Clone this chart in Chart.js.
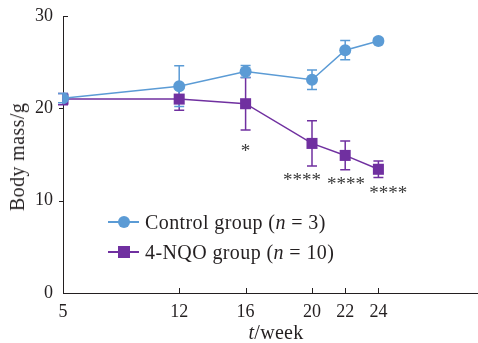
<!DOCTYPE html>
<html><head><meta charset="utf-8">
<script src="https://cdn.jsdelivr.net/npm/chart.js@4/dist/chart.umd.min.js"></script>
<style>
html,body{margin:0;padding:0;background:#fff;}
#wrap{position:relative;width:478px;height:343px;overflow:hidden;}
#c{position:absolute;left:0;top:0;}
.t{position:absolute;font-family:"Liberation Serif","DejaVu Serif",serif;color:#231f20;font-size:18px;white-space:nowrap;line-height:1;}
#xt{left:276px;top:332px;transform:translate(-50%,-50%);font-size:20px;letter-spacing:0.3px;}
#yt{left:17px;top:157px;transform:translate(-50%,-50%) rotate(-90deg);font-size:20px;letter-spacing:0.4px;}
.row{position:absolute;left:108px;height:20px;display:flex;align-items:center;font-size:20px;letter-spacing:0.4px;}
.ln{position:relative;width:31px;height:20px;margin-right:6px;}
.ln .bar{position:absolute;left:0;right:0;top:9px;height:1.5px;}
.ln .mk{position:absolute;left:10px;top:4px;width:12px;height:12px;}
</style></head><body>
<div id="wrap">
<canvas id="c" width="478" height="343"></canvas>
<div class="t" id="xt"><i>t</i>/week</div>
<div class="t" id="yt">Body mass/g</div>
<div class="t row" id="lg0" style="top:212px"></div>
<div class="t row" id="lg1" style="top:242px"></div>
</div>
<script>
// ---- data ----
const weeks = [5, 12, 16, 20, 22, 24];
const controlMean = [21.1, 22.4, 24.0, 23.1, 26.3, 27.3];
const controlErr  = [0.5, 2.2, 0.65, 1.05, 1.05, 0.3];
const nqoMean = [21.0, 21.0, 20.5, 16.2, 14.9, 13.4];
const nqoErr  = [0.6, 1.2, 2.85, 2.45, 1.55, 0.9];
const yTicks = [0, 10, 20, 30];
const sigText = ['*', '****', '****', '****'];
const sigX = [16, 19.4, 22.05, 24.6];
const sigY = [15.4, 12.2, 11.8, 10.8];
const seriesNames = ['Control group (<i>n</i> = 3)', '4-NQO group (<i>n</i> = 10)'];

const BLUE = '#5b9bd5', PURPLE = '#7030a0', INK = '#231f20';
const FONT = '"Liberation Serif","DejaVu Serif",serif';

const toPts = (m) => weeks.map((w, i) => ({x: w, y: m[i]}));
const errs = [controlErr, nqoErr];

const errPlugin = {
  id: 'errbars',
  beforeDatasetsDraw(chart) {
    const ctx = chart.ctx, xs = chart.scales.x, ys = chart.scales.y;
    [1, 0].forEach((idx) => {
      const ds = chart.data.datasets[idx];
      const e = errs[idx];
      ctx.save();
      ctx.strokeStyle = ds.borderColor; ctx.lineWidth = 1.5;
      ds.data.forEach((p, j) => {
        const x = xs.getPixelForValue(p.x);
        const y1 = ys.getPixelForValue(p.y + e[j]);
        const y2 = ys.getPixelForValue(p.y - e[j]);
        ctx.beginPath();
        ctx.moveTo(x, y1); ctx.lineTo(x, y2);
        ctx.moveTo(x - 5, y1); ctx.lineTo(x + 5, y1);
        ctx.moveTo(x - 5, y2); ctx.lineTo(x + 5, y2);
        ctx.stroke();
      });
      ctx.restore();
    });
  },
  afterDraw(chart) {
    const ctx = chart.ctx, xs = chart.scales.x, ys = chart.scales.y;
    ctx.save();
    ctx.strokeStyle = INK; ctx.lineWidth = 1;
    const b = ys.getPixelForValue(0);
    const l = xs.getPixelForValue(5);
    ctx.beginPath();
    weeks.slice(1).forEach(w => {
      const x = Math.round(xs.getPixelForValue(w)) + 0.5;
      ctx.moveTo(x, b); ctx.lineTo(x, b - 5);
    });
    yTicks.slice(1).forEach(v => {
      const y = Math.round(ys.getPixelForValue(v)) + 0.5;
      if (v === 30) { ctx.moveTo(l, y); ctx.lineTo(l + 5, y); }
      else { ctx.moveTo(l - 4, y); ctx.lineTo(l, y); }
    });
    ctx.stroke();
    ctx.fillStyle = '#3a3a3a';
    ctx.font = '19px ' + FONT;
    ctx.textAlign = 'center'; ctx.textBaseline = 'middle';
    sigText.forEach((s, i) => {
      ctx.fillText(s, xs.getPixelForValue(sigX[i]), ys.getPixelForValue(sigY[i]) + 1);
    });
    ctx.restore();
  }
};

new Chart(document.getElementById('c'), {
  type: 'line',
  data: {
    datasets: [
      {label: 'Control group (n = 3)', data: toPts(controlMean), borderColor: BLUE, backgroundColor: BLUE,
       borderWidth: 1.5, pointStyle: 'circle', pointRadius: 6, pointBorderWidth: 0, tension: 0},
      {label: '4-NQO group (n = 10)', data: toPts(nqoMean), borderColor: PURPLE, backgroundColor: PURPLE,
       borderWidth: 1.5, pointStyle: 'rect', pointRadius: 7.8, pointBorderWidth: 0, tension: 0}
    ]
  },
  options: {
    responsive: false, animation: false,
    layout: {autoPadding: false, padding: {top: 16, right: 0, left: 0, bottom: 0}},
    plugins: {legend: {display: false}, tooltip: {enabled: false}},
    scales: {
      x: {
        type: 'linear', min: 5, max: 30,
        afterBuildTicks: s => { s.ticks = weeks.map(v => ({value: v})); },
        afterFit: s => { s.height = 50; s.paddingLeft = 0; s.paddingRight = 0; },
        grid: {display: false},
        border: {display: true, color: INK, width: 1},
        ticks: {color: INK, font: {family: FONT, size: 18}, padding: 0, autoSkip: false, maxRotation: 0,
                callback: v => String(v)}
      },
      y: {
        min: 0, max: 30,
        afterBuildTicks: s => { s.ticks = yTicks.map(v => ({value: v})); },
        afterFit: s => { s.width = 63; s.paddingTop = 0; s.paddingBottom = 0; },
        grid: {display: false},
        border: {display: true, color: INK, width: 1},
        ticks: {color: INK, font: {family: FONT, size: 18}, padding: 2, callback: v => String(v)}
      }
    }
  },
  plugins: [errPlugin]
});

// HTML legend
[BLUE, PURPLE].forEach((c, i) => {
  const row = document.getElementById('lg' + i);
  const mkStyle = i === 0 ? 'border-radius:50%;' : '';
  row.innerHTML = '<span class="ln"><span class="bar" style="background:' + c + '"></span>' +
    '<span class="mk" style="background:' + c + ';' + mkStyle + '"></span></span>' +
    '<span>' + seriesNames[i] + '</span>';
});
</script>
</body></html>
